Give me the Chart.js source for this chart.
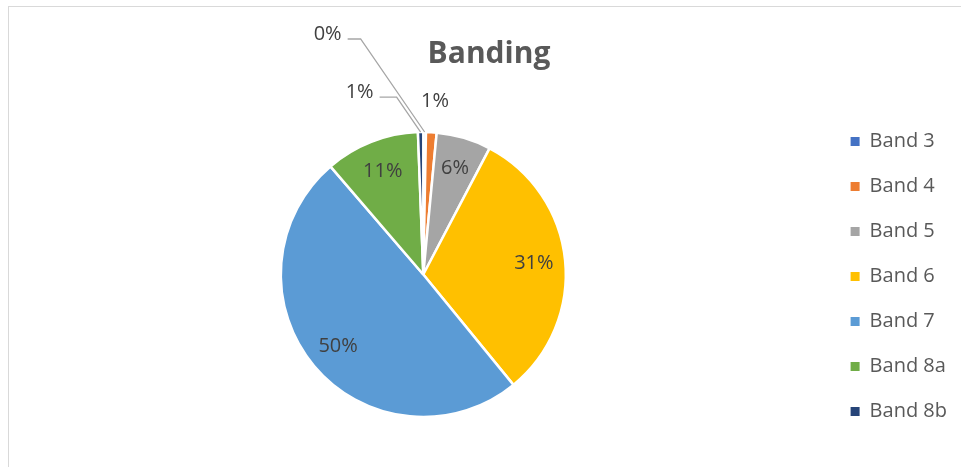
<!DOCTYPE html>
<html>
<head>
<meta charset="utf-8">
<script src="https://cdn.jsdelivr.net/npm/chart.js@4"></script>
<style>
  html, body { margin: 0; padding: 0; background: #ffffff; overflow: hidden; width: 961px; height: 467px; }
  #wrap { position: absolute; left: 8px; top: 6px; width: 960px; height: 460px;
          border-top: 1px solid #d9d9d9; border-left: 1px solid #d9d9d9; background: #fff; }
</style>
</head>
<body>
<div id="wrap"><canvas id="c"></canvas></div>
<script>
// ---- data ----
const categories = ['Band 3', 'Band 4', 'Band 5', 'Band 6', 'Band 7', 'Band 8a', 'Band 8b'];
const shares = [0.3, 1.2, 6.2, 31.4, 49.6, 10.7, 0.6];   // percent of total
const chartTitle = 'Banding';

// ---- styling ----
const sliceColors = ['#4472C4', '#ED7D31', '#A5A5A5', '#FFC000', '#5B9BD5', '#70AD47', '#264478'];
// how each slice label is placed: inside, just outside, or outside with a leader line
const labelMode = ['leader', 'outside', 'inside', 'inside', 'inside', 'inside', 'leader'];
const leaderShape = { 0: { dx: -64, dy: -93, len: 13 }, 6: { dx: -24, dy: -35, len: 17 } };

const sliceLabels = {
  id: 'sliceLabels',
  afterDatasetsDraw(chart) {
    const ctx = chart.ctx;
    const meta = chart.getDatasetMeta(0);
    const vals = chart.data.datasets[0].data;
    const total = vals.reduce((a, b) => a + b, 0);
    ctx.save();
    ctx.font = '20px "Open Sans"';
    ctx.fillStyle = '#404040';
    ctx.textBaseline = 'middle';
    meta.data.forEach((arc, i) => {
      const p = arc.getProps(['x', 'y', 'startAngle', 'endAngle', 'outerRadius'], true);
      const mid = (p.startAngle + p.endAngle) / 2;
      const txt = Math.round(vals[i] / total * 100) + '%';
      const mode = labelMode[i];
      if (mode === 'inside') {
        const r = p.outerRadius * 0.78;
        ctx.textAlign = 'center';
        ctx.fillText(txt, p.x + r * Math.cos(mid), p.y + r * Math.sin(mid));
      } else if (mode === 'outside') {
        const r = p.outerRadius + 31;
        ctx.textAlign = 'center';
        ctx.fillText(txt, p.x + r * Math.cos(mid) + 2, p.y + r * Math.sin(mid));
      } else {
        const s = leaderShape[i];
        const x0 = p.x + p.outerRadius * Math.cos(mid);
        const y0 = p.y + p.outerRadius * Math.sin(mid);
        const x1 = x0 + s.dx, y1 = y0 + s.dy;
        const x2 = x1 - s.len;
        ctx.beginPath();
        ctx.strokeStyle = '#A6A6A6';
        ctx.lineWidth = 1.3;
        ctx.moveTo(x0, y0);
        ctx.lineTo(x1, y1);
        ctx.lineTo(x2, y1);
        ctx.stroke();
        ctx.textAlign = 'right';
        ctx.fillText(txt, x2 - 6, y1 - 5);
      }
    });
    ctx.restore();
  }
};

new Chart(document.getElementById('c'), {
  type: 'pie',
  data: {
    labels: categories,
    datasets: [{
      data: shares,
      backgroundColor: sliceColors,
      borderColor: '#ffffff',
      borderWidth: 2.5,
      radius: 142.5
    }]
  },
  options: {
    responsive: true,
    maintainAspectRatio: false,
    animation: false,
    events: [],
    layout: { padding: { left: 12, right: 12, top: 0, bottom: 17 } },
    plugins: {
      title: {
        display: true,
        text: chartTitle,
        color: '#595959',
        font: { family: 'Open Sans', size: 30, weight: 'bold', lineHeight: 1.2 },
        padding: { top: 29, bottom: 27 }
      },
      legend: {
        position: 'right',
        fullSize: false,
        align: 'center',
        title: { display: true, text: ' ', font: { size: 1, lineHeight: 1 }, padding: { top: 1.5, bottom: 1.5 } },
        labels: {
          boxWidth: 9,
          boxHeight: 9,
          padding: 25,
          color: '#595959',
          font: { family: 'Open Sans', size: 20 },
          generateLabels: (chart) =>
            Chart.overrides.pie.plugins.legend.labels.generateLabels(chart).map(l => Object.assign(l, { lineWidth: 0 }))
        }
      },
      tooltip: { enabled: false }
    }
  },
  plugins: [sliceLabels]
});
</script>
</body>
</html>
